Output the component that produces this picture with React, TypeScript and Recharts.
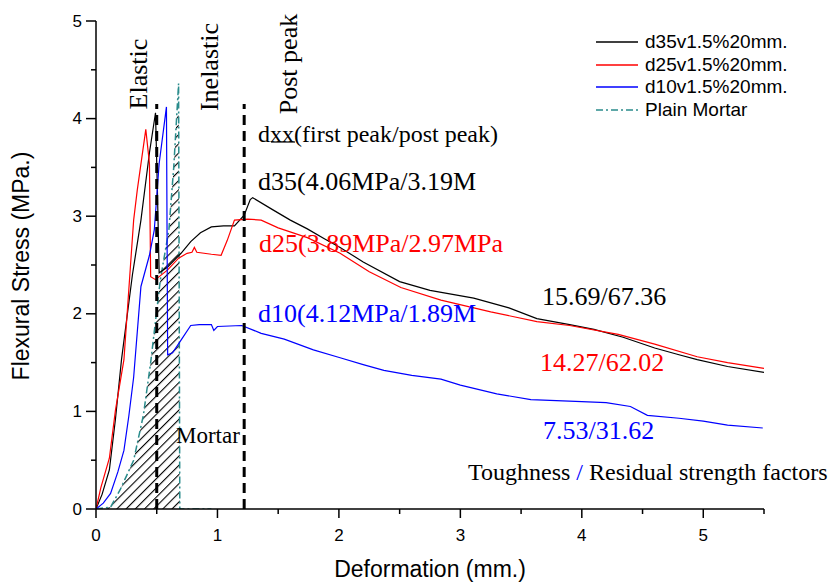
import React from "react";
import { ComposedChart, Line, Area, XAxis, YAxis, ReferenceLine, Legend } from "recharts";

// ── Data (deformation mm, flexural stress MPa) ───────────────────────────────

const d35: [number, number][] = [
  [0, 0], [0.05, 0.15], [0.11, 0.4], [0.16, 0.92], [0.21, 1.53], [0.3, 2.4], [0.37, 2.96],
  [0.44, 3.65], [0.49, 4.06], [0.505, 3.3], [0.52, 2.42], [0.59, 2.48], [0.7, 2.62], [0.78, 2.74],
  [0.86, 2.83], [0.95, 2.89], [1.05, 2.9], [1.14, 2.9], [1.22, 3.01], [1.27, 3.17], [1.29, 3.19],
  [1.45, 3.07], [1.6, 2.96], [1.74, 2.87], [1.88, 2.77], [2.01, 2.68], [2.2, 2.53], [2.5, 2.33],
  [2.75, 2.24], [3.11, 2.16], [3.4, 2.06], [3.63, 1.95], [3.9, 1.89], [4.1, 1.84], [4.34, 1.76],
  [4.6, 1.65], [4.8, 1.58], [4.95, 1.53], [5.2, 1.46], [5.5, 1.4],
];

const d25: [number, number][] = [
  [0, 0], [0.04, 0.22], [0.11, 0.52], [0.16, 1.01], [0.23, 1.53], [0.31, 2.96], [0.34, 3.27],
  [0.41, 3.89], [0.44, 3.54], [0.45, 2.38], [0.49, 2.35], [0.59, 2.45], [0.68, 2.57], [0.75, 2.62],
  [0.79, 2.63], [0.81, 2.68], [0.83, 2.63], [0.95, 2.61], [1.03, 2.6], [1.08, 2.75], [1.14, 2.96],
  [1.25, 2.97], [1.36, 2.96], [1.5, 2.88], [1.74, 2.78], [2.01, 2.62], [2.25, 2.43], [2.51, 2.27],
  [2.84, 2.14], [3.25, 2.02], [3.63, 1.92], [3.9, 1.88], [4.3, 1.79], [4.6, 1.69], [4.95, 1.56],
  [5.2, 1.5], [5.5, 1.44],
];

const d10: [number, number][] = [
  [0, 0], [0.06, 0.06], [0.12, 0.16], [0.18, 0.38], [0.23, 0.6], [0.27, 0.95], [0.31, 1.35],
  [0.37, 2.28], [0.44, 2.6], [0.48, 2.86], [0.52, 3.54], [0.58, 4.12], [0.59, 1.58], [0.63, 1.6],
  [0.7, 1.73], [0.78, 1.88], [0.85, 1.89], [0.95, 1.89], [0.97, 1.83], [1.0, 1.87], [1.2, 1.88],
  [1.36, 1.8], [1.55, 1.74], [1.79, 1.63], [2.01, 1.55], [2.2, 1.48], [2.37, 1.42], [2.6, 1.37],
  [2.84, 1.33], [3.0, 1.27], [3.3, 1.18], [3.58, 1.12], [4.0, 1.1], [4.2, 1.09], [4.4, 1.05],
  [4.54, 0.96], [4.8, 0.93], [5.0, 0.9], [5.2, 0.86], [5.49, 0.83],
];

const mortar: [number, number][] = [
  [0, 0], [0.12, 0.02], [0.2, 0.2], [0.31, 0.5], [0.39, 0.96], [0.45, 1.5], [0.53, 2.35],
  [0.6, 2.86], [0.64, 3.5], [0.68, 4.36], [0.69, 0], [0.95, 0],
];

const seriesNames = ["d35v1.5%20mm.", "d25v1.5%20mm.", "d10v1.5%20mm.", "Plain Mortar"];
const seriesColors = ["#000000", "#ff0000", "#0000ff", "#2a8c8c"];

const xTicks = [0, 0.5, 1, 1.5, 2, 2.5, 3, 3.5, 4, 4.5, 5, 5.5];
const yTicks = [0, 0.5, 1, 1.5, 2, 2.5, 3, 3.5, 4, 4.5, 5];

// phase boundaries (elastic / inelastic / post peak)
const phaseLines = [0.5, 1.22];
const phaseTop = 4.15;

const peakLabels = ["d35(4.06MPa/3.19M", "d25(3.89MPa/2.97MPa", "d10(4.12MPa/1.89M"];
const toughnessLabels = ["15.69/67.36", "14.27/62.02", "7.53/31.62"];

const toRows = (pts: [number, number][]) => pts.map(([x, y]) => ({ x, y }));

const SANS = "'Liberation Sans', Arial, sans-serif";
const SERIF = "'Liberation Serif', 'Times New Roman', serif";

// ── Ticks ────────────────────────────────────────────────────────────────────

const XTick = ({ x, y, payload }: any) => {
  const major = Number.isInteger(payload.value);
  return (
    <g>
      <line x1={x} x2={x} y1={y} y2={y + (major ? 9 : 5)} stroke="#000" strokeWidth={1.5} />
      {major && (
        <text x={x} y={y + 26} textAnchor="middle" dominantBaseline="central" fontFamily={SANS} fontSize={17} fill="#000">
          {payload.value}
        </text>
      )}
    </g>
  );
};

const YTick = ({ x, y, payload }: any) => {
  const major = Number.isInteger(payload.value);
  return (
    <g>
      <line x1={x} x2={x - (major ? 10 : 5)} y1={y} y2={y} stroke="#000" strokeWidth={1.5} />
      {major && (
        <text x={x - 14} y={y} textAnchor="end" dominantBaseline="central" fontFamily={SANS} fontSize={17} fill="#000">
          {payload.value}
        </text>
      )}
    </g>
  );
};

const LegendBox = () => (
  <div style={{ fontFamily: SANS, fontSize: 19, color: "#000", lineHeight: "22.5px" }}>
    {seriesNames.map((name, i) => (
      <div key={name} style={{ display: "flex", alignItems: "center", height: 22.5 }}>
        <svg width={44} height={10} style={{ marginRight: 6 }}>
          <line
            x1={1}
            x2={43}
            y1={5}
            y2={5}
            stroke={seriesColors[i]}
            strokeWidth={1.5}
            strokeDasharray={i === 3 ? "7 3 2 3" : undefined}
          />
        </svg>
        <span>{name}</span>
      </div>
    ))}
  </div>
);

export default function App() {
  const series = [d35, d25, d10];
  return (
    <div style={{ position: "absolute", left: 0, top: 0, width: 829, height: 583, background: "#fff" }}>
      <ComposedChart width={829} height={583} margin={{ top: 21, right: 65, bottom: 0, left: 0 }}>
        <defs>
          <pattern id="hatch" patternUnits="userSpaceOnUse" width={6.5} height={6.5} patternTransform="rotate(45)">
            <rect x={0} y={0} width={1.1} height={6.5} fill="#000" />
          </pattern>
        </defs>
        <XAxis
          type="number"
          dataKey="x"
          domain={[0, 5.5]}
          ticks={xTicks}
          interval={0}
          height={74}
          tickSize={0}
          tickMargin={0}
          tickLine={false}
          axisLine={{ stroke: "#000", strokeWidth: 1.5 }}
          tick={(p: any) => <XTick {...p} />}
          allowDataOverflow
        />
        <YAxis
          type="number"
          dataKey="y"
          domain={[0, 5]}
          ticks={yTicks}
          interval={0}
          width={96}
          tickSize={0}
          tickMargin={0}
          tickLine={false}
          axisLine={{ stroke: "#000", strokeWidth: 1.5 }}
          tick={(p: any) => <YTick {...p} />}
          allowDataOverflow
        />
        <Area
          data={toRows(mortar)}
          dataKey="y"
          type="linear"
          stroke={seriesColors[3]}
          strokeWidth={1.5}
          strokeDasharray="7 3 2 3"
          fill="url(#hatch)"
          fillOpacity={1}
          dot={false}
          activeDot={false}
          isAnimationActive={false}
        />
        {series.map((s, i) => (
          <Line
            key={seriesNames[i]}
            data={toRows(s)}
            dataKey="y"
            type="linear"
            stroke={seriesColors[i]}
            strokeWidth={1.2}
            dot={false}
            activeDot={false}
            isAnimationActive={false}
          />
        ))}
        {phaseLines.map((px) => (
          <ReferenceLine
            key={px}
            segment={[{ x: px, y: 0 }, { x: px, y: phaseTop }]}
            stroke="#000"
            strokeWidth={3}
            strokeDasharray="10 6"
          />
        ))}
        <Legend
          layout="horizontal"
          verticalAlign="middle"
          align="center"
          content={() => <LegendBox />}
          wrapperStyle={{ top: 31, left: 595, width: 232 }}
        />
      </ComposedChart>

      {/* annotations */}
      <svg width={829} height={583} style={{ position: "absolute", left: 0, top: 0, pointerEvents: "none" }}>
        <text x={21} y={266} transform="rotate(-90 21 266)" textAnchor="middle" dominantBaseline="central" fontFamily={SANS} fontSize={23}>
          Flexural Stress (MPa.)
        </text>
        <text x={430} y={569} textAnchor="middle" dominantBaseline="central" fontFamily={SANS} fontSize={23}>
          Deformation (mm.)
        </text>

        <g fontFamily={SERIF} fontSize={26} fill="#000">
          <text x={138} y={74} transform="rotate(-90 138 74)" textAnchor="middle" dominantBaseline="central">Elastic</text>
          <text x={209} y={67} transform="rotate(-90 209 67)" textAnchor="middle" dominantBaseline="central">Inelastic</text>
          <text x={288} y={64} transform="rotate(-90 288 64)" textAnchor="middle" dominantBaseline="central">Post peak</text>
        </g>

        <g fontFamily={SERIF} dominantBaseline="central">
          <text x={258} y={134} fontSize={24} fill="#000">dxx(first peak/post peak)</text>
          <line x1={271} x2={295} y1={142} y2={142} stroke="#000" strokeWidth={1.2} />
          <text x={258} y={181} fontSize={26} fill={seriesColors[0]}>{peakLabels[0]}</text>
          <text x={259} y={243} fontSize={26} fill={seriesColors[1]}>{peakLabels[1]}</text>
          <text x={258} y={313} fontSize={26} fill={seriesColors[2]}>{peakLabels[2]}</text>

          <text x={542} y={296} fontSize={26} fill={seriesColors[0]}>{toughnessLabels[0]}</text>
          <text x={540} y={362} fontSize={26} fill={seriesColors[1]}>{toughnessLabels[1]}</text>
          <text x={543} y={430} fontSize={26} fill={seriesColors[2]}>{toughnessLabels[2]}</text>

          <text x={468} y={472} fontSize={24} fill="#000">
            Toughness <tspan fill="#0000ff">/</tspan> Residual strength factors
          </text>
          <text x={176} y={435} fontSize={23} fill="#000">Mortar</text>
        </g>
      </svg>
    </div>
  );
}
